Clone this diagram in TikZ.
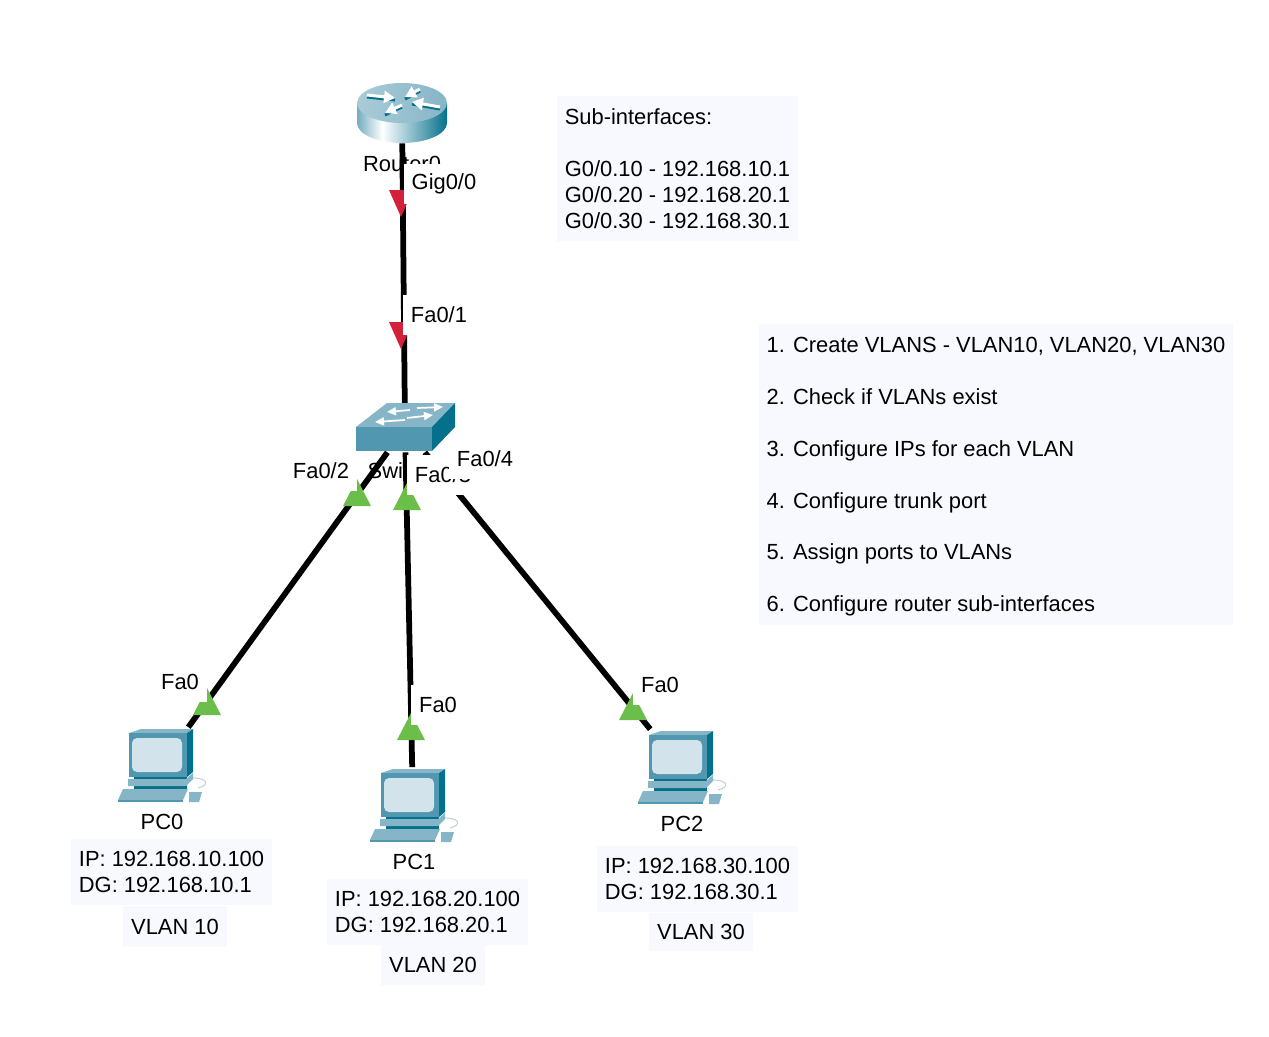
\documentclass[tikz,border=0pt]{standalone}
\usepackage{fontspec}
\setmainfont{Liberation Sans}
\usetikzlibrary{arrows.meta}
\definecolor{notefill}{HTML}{F7F9FF}
\definecolor{portred}{HTML}{D2213A}
\definecolor{portgreen}{HTML}{6CBE4B}
\definecolor{icontop}{HTML}{86B5C7}
\definecolor{iconfront}{HTML}{5197AF}
\definecolor{iconside}{HTML}{04708C}
\definecolor{iconscreen}{HTML}{D3E3EB}
\pgfdeclarehorizontalshading{routerside}{100bp}{
	color(0bp)=(iconfront!80!white);
	color(25bp)=(iconfront!80!white);
	color(39bp)=(white);
	color(75bp)=(iconside);
	color(100bp)=(iconside)}
\tikzset{
	link/.style={line width=1.15mm, black},
	devicebox/.style={minimum width=#1, minimum height=15mm, inner sep=0pt},
	portlabel/.style={fill=white, inner xsep=1.6mm, inner ysep=0pt, minimum height=8mm},
	devlabel/.style={inner sep=0pt},
	notebox/.style={fill=notefill, align=left, inner xsep=1.6mm, inner ysep=0pt},
	vlanbox/.style={fill=notefill, minimum width=20.8mm, inner sep=0pt},
	iconarrow/.style={white, line width=0.6mm, -{Triangle[length=2.2mm,width=2.4mm]}},
	iconshadow/.style={iconside, line width=0.6mm},
	switcharrow/.style={white, line width=0.35mm, -{Triangle[length=1.8mm,width=1.6mm]}},
	pics/routericon/.style={code={
		\path[shading=routerside]
			(-45,-10) -- (-45,10) arc[start angle=180, end angle=0, x radius=45, y radius=20]
			-- (45,-10) -- cycle;
		\path[left color=icontop!70!white, right color=icontop] (0,-10) ellipse[x radius=45, y radius=20];
		% arrows with their shadow
		\foreach \xa/\ya/\xb/\yb in {-35/-18/-7/-15, 38/-6/10/-11, 18/-24/3/-16, 0/-8/-17/0} {
			\draw[iconshadow] (\xa,\ya+2) -- (\xb,\yb+2);
			\draw[iconarrow] (\xa,\ya) -- (\xb,\yb);
		}
	}},
	pics/switchicon/.style={code={
		\fill[icontop] (-49,-1) -- (-18,-25) -- (50,-25) -- (27,-1) -- cycle;
		\fill[iconfront] (-49,-1) rectangle (27,23);
		\fill[iconside] (27,-1) -- (50,-25) -- (50,-1) -- (27,23) -- cycle;
		\draw[switcharrow] (5,-18) -- (-18,-16);
		\draw[switcharrow] (12,-20) -- (38,-21);
		\draw[switcharrow] (0,-8) -- (-30,-6);
		\draw[switcharrow] (2,-10) -- (28,-13);
	}},
	pics/pcicon/.style={code={
		% cable and mouse
		\draw[iconscreen!80!gray, line width=0.2mm] (37,23) .. controls (50,20) and (46,12) .. (29,13);
		\fill[icontop] (28,27) -- (41,27) -- (38,37) -- (28,37) -- cycle;
		% monitor
		\fill[icontop] (-32,-32) -- (-20,-36) -- (32,-36) -- (26,-32) -- cycle;
		\fill[iconside] (26,-32) -- (32,-36) -- (32,7) -- (26,12) -- cycle;
		\fill[iconfront] (-32,-32) rectangle (26,12);
		\fill[iconscreen, rounded corners=1mm] (-29,-27) rectangle (21,7);
		% stand
		\fill[iconside] (-27,12) rectangle (26,27);
		\fill[icontop] (-33,14) -- (25,14) -- (32,8) -- (32,14) -- (25,21) -- (-33,21) -- cycle;
		% keyboard
		\fill[icontop] (-38,24) -- (27,24) -- (22,35) -- (-43,35) -- cycle;
		\fill[iconfront] (-43,35) rectangle (22,37);
	}},
}

\begin{document}
\begin{tikzpicture}[x=0.02cm, y=-0.02cm, font=\fontsize{12.47}{14.74}\selectfont]
	\useasboundingbox (0,0) rectangle (1269,1036);
	
	%========================
	% Devices
	%========================
	\node[devicebox=18mm, minimum height=12mm] (router) at (402,113) {};
	\node[devicebox=20mm, minimum height=9.6mm] (switch) at (405,428) {};
	\node[devicebox=18mm] (pczero) at (161,765) {};
	\node[devicebox=18mm] (pcone) at (413,805) {};
	\node[devicebox=18mm] (pctwo) at (681,767) {};
	
	% links
	\draw[link] (router) -- (switch);
	\draw[link] (switch) -- (pczero);
	\draw[link] (switch) -- (pcone);
	\draw[link] (switch) -- (pctwo);
	
	% port state marks
	\foreach \x/\y in {401/217, 401/349}
		\fill[portred] (\x,\y) -- ++(12,-27) -- ++(-24,0) -- cycle;
	\foreach \x/\y in {357/479, 407/483, 207/688, 411/713, 633/693}
		\fill[portgreen] (\x,\y) -- ++(14,27) -- ++(-28,0) -- cycle;
	
	% icons
	\pic at (router) {routericon};
	\pic at (switch) {switchicon};
	\pic at (pczero) {pcicon};
	\pic at (pcone) {pcicon};
	\pic at (pctwo) {pcicon};
	
	%========================
	% Device and port labels
	%========================
	\node[devlabel] (routername) at (402,163.5) {Router0};
	\node[devlabel] (switchname) at (406,470.5) {Switch0};
	\node[devlabel] (pczeroname) at (162,821.5) {PC0};
	\node[devlabel] (pconename) at (414,861.5) {PC1};
	\node[devlabel] (pctwoname) at (682,823.5) {PC2};
	
	\node[portlabel] (gig) at (444,184) {Gig0/0};
	\node[portlabel] (fasw) at (439,314.5) {Fa0/1};
	\node[portlabel] (fatwo) at (321,470.5) {Fa0/2};
	\node[portlabel] (fathree) at (443,474.5) {Fa0/3};
	\node[portlabel] (fafour) at (485,458.5) {Fa0/4};
	\node[portlabel] (fapczero) at (180,681.5) {Fa0};
	\node[portlabel] (fapcone) at (438,704.5) {Fa0};
	\node[portlabel] (fapctwo) at (660,684.5) {Fa0};
	
	%========================
	% Notes
	%========================
	\node[notebox, minimum height=29mm] (subif) at (677.5,168.5)
	{Sub-interfaces:\\[14.74pt]
		G0/0.10 - 192.168.10.1\\
		G0/0.20 - 192.168.20.1\\
		G0/0.30 - 192.168.30.1};
	\node[notebox, minimum height=60.2mm] (steps) at (996,474.5)
	{\rule{0pt}{11.3pt}1. Create VLANS - VLAN10, VLAN20, VLAN30\\[14.74pt]
		2. Check if VLANs exist\\[14.74pt]
		3. Configure IPs for each VLAN\\[14.74pt]
		4. Configure trunk port\\[14.74pt]
		5. Assign ports to VLANs\\[14.74pt]
		6. Configure router sub-interfaces};
	
	% addressing per PC
	\node[notebox, minimum height=13.2mm] (ipzero) at (171.5,871.5) {IP: 192.168.10.100\\DG: 192.168.10.1};
	\node[notebox, minimum height=13.2mm] (ipone) at (427.5,911.5) {IP: 192.168.20.100\\DG: 192.168.20.1};
	\node[notebox, minimum height=13.2mm] (iptwo) at (697.5,879) {IP: 192.168.30.100\\DG: 192.168.30.1};
	
	\node[vlanbox, minimum height=8.2mm] (vlanzero) at (175,926.5) {VLAN 10};
	\node[vlanbox, minimum height=8mm] (vlanone) at (433,965) {VLAN 20};
	\node[vlanbox, minimum height=7.6mm] (vlantwo) at (701,932) {VLAN 30};
\end{tikzpicture}
\end{document}
